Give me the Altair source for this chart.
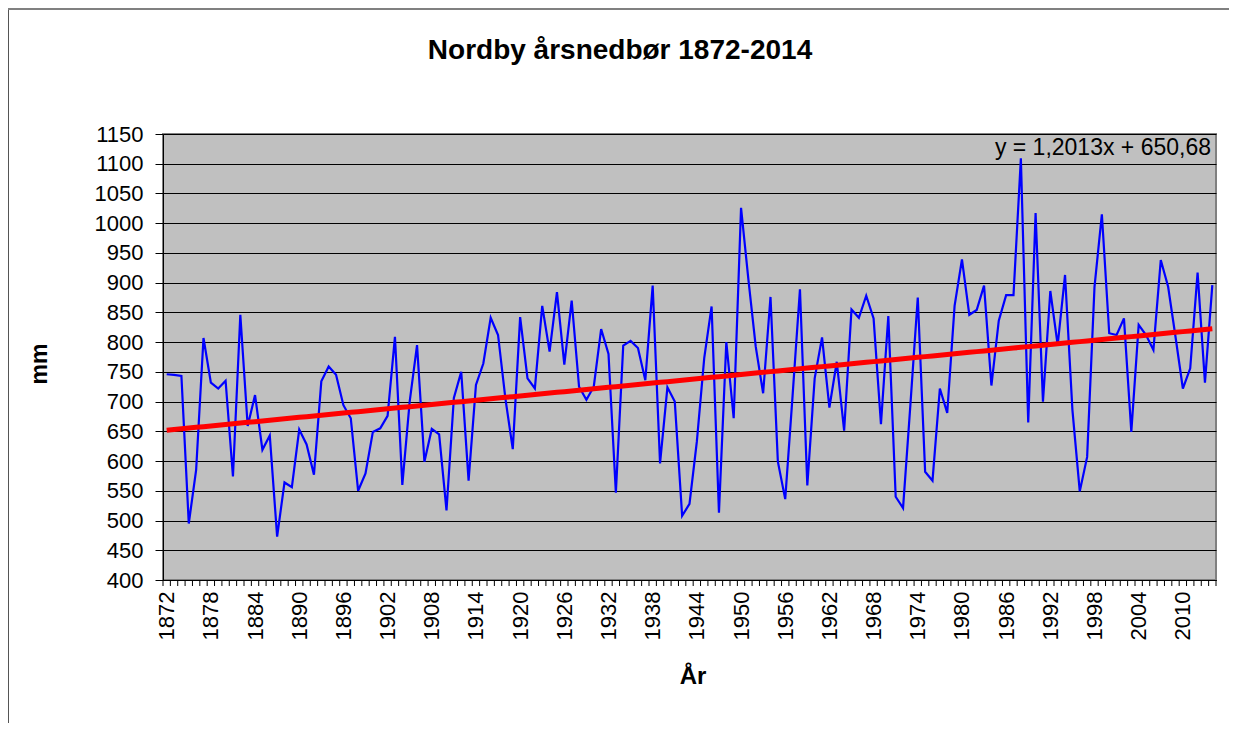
import altair as alt
import pandas as pd

# ---- data ----
years = list(range(1872, 2015))
precip = [
    746, 745, 743, 495, 585, 807, 732, 722, 735, 574,
    846, 659, 711, 619, 643, 473, 564, 556, 653, 628,
    577, 734, 759, 745, 694, 672, 550, 579, 649, 655,
    676, 809, 560, 700, 795, 599, 654, 645, 517, 706,
    750, 567, 728, 764, 841, 812, 705, 620, 842, 739,
    722, 861, 784, 884, 762, 870, 725, 703, 725, 822,
    780, 547, 794, 802, 790, 736, 895, 596, 724, 700,
    508, 528, 633, 773, 860, 513, 800, 672, 1026, 905,
    792, 714, 876, 599, 536, 710, 889, 559, 739, 808,
    690, 767, 651, 855, 841, 878, 840, 662, 844, 540,
    521, 695, 875, 582, 567, 722, 681, 861, 939, 846,
    854, 895, 727, 836, 879, 879, 1109, 665, 1017, 700,
    886, 795, 913, 686, 549, 607, 893, 1015, 815, 812,
    840, 649, 829, 812, 787, 938, 893, 809, 722, 756,
    917, 732, 896,
]
x_labels = list(range(1872, 2011, 6))
y_ticks = list(range(400, 1151, 50))
slope = 1.2013
intercept = 650.68
title_text = "Nordby årsnedbør 1872-2014"
eq_text = "y = 1,2013x + 650,68"
y_title = "mm"
x_title = "År"

W, H = 1053, 446
FONT = "Liberation Sans"

df = pd.DataFrame({"year": years, "mm": precip})
df["idx"] = range(1, len(df) + 1)
df["trend"] = slope * df["idx"] + intercept

bounds = pd.DataFrame({"b": [y - 0.5 for y in years] + [years[-1] + 0.5]})

xscale = alt.Scale(domain=[years[0] - 0.5, years[-1] + 0.5], nice=False, zero=False)
yscale = alt.Scale(domain=[400, 1150], nice=False, zero=False)

xaxis = alt.Axis(values=x_labels, format="d", labelAngle=-90, ticks=False, tickSize=0,
                 grid=False, domain=True, domainColor="black", domainWidth=1,
                 labelFontSize=22, labelFont=FONT, labelColor="black",
                 labelPadding=11, title=None, labelOverlap=False)
yaxis = alt.Axis(values=y_ticks, format="d", grid=True, gridColor="black", gridWidth=1,
                 tickColor="black", tickSize=8, domain=True, domainColor="black",
                 domainWidth=1, labelFontSize=22, labelFont=FONT, labelColor="black",
                 labelPadding=12, title=None, labelOverlap=False)

base = alt.Chart(df)

line = base.mark_line(color="#0000FF", strokeWidth=2.2).encode(
    x=alt.X("year:Q", scale=xscale, axis=xaxis),
    y=alt.Y("mm:Q", scale=yscale, axis=yaxis),
)

trend = base.mark_line(color="#FF0000", strokeWidth=5).encode(
    x=alt.X("year:Q", scale=xscale, axis=xaxis),
    y=alt.Y("trend:Q", scale=yscale, axis=yaxis),
)

ticks = alt.Chart(bounds).mark_rule(color="black", strokeWidth=1).encode(
    x=alt.X("b:Q", scale=xscale, axis=xaxis),
    y=alt.value(H),
    y2=alt.value(H + 6),
)

def label(text, x, y, size, bold=False, align="center", angle=0, baseline="middle"):
    return alt.Chart(pd.DataFrame({"t": [text]})).mark_text(
        font=FONT, fontSize=size, fontWeight="bold" if bold else "normal",
        align=align, baseline=baseline, angle=angle, color="black",
    ).encode(text="t:N", x=alt.value(x), y=alt.value(y))

title = label(title_text, 457, -83, 28, bold=True)
ytitle = label(y_title, -123, 230, 23, bold=True, angle=270)
xtitle = label(x_title, 530, 543, 24, bold=True)
eq = label(eq_text, W - 5, 21, 23, align="right", baseline="alphabetic")

left_border = alt.Chart(pd.DataFrame({"a": [0]})).mark_rect(color="#555555").encode(
    x=alt.value(-155), x2=alt.value(-154), y=alt.value(-126), y2=alt.value(H + 143)
)
top_border = alt.Chart(pd.DataFrame({"a": [0]})).mark_rect(color="#808080").encode(
    x=alt.value(-155), x2=alt.value(W + 13), y=alt.value(-126), y2=alt.value(-124)
)

chart = alt.layer(
    line, trend, ticks, title, ytitle, xtitle, eq, left_border, top_border
).properties(
    width=W, height=H,
    autosize=alt.AutoSizeParams(type="none"),
    padding={"left": 155, "top": 126, "right": 13, "bottom": 143},
    background="white",
).configure_view(
    fill="#C0C0C0", stroke="#808080", strokeWidth=2
)

chart.save("out.html", embed_options={"renderer": "svg", "actions": False})
